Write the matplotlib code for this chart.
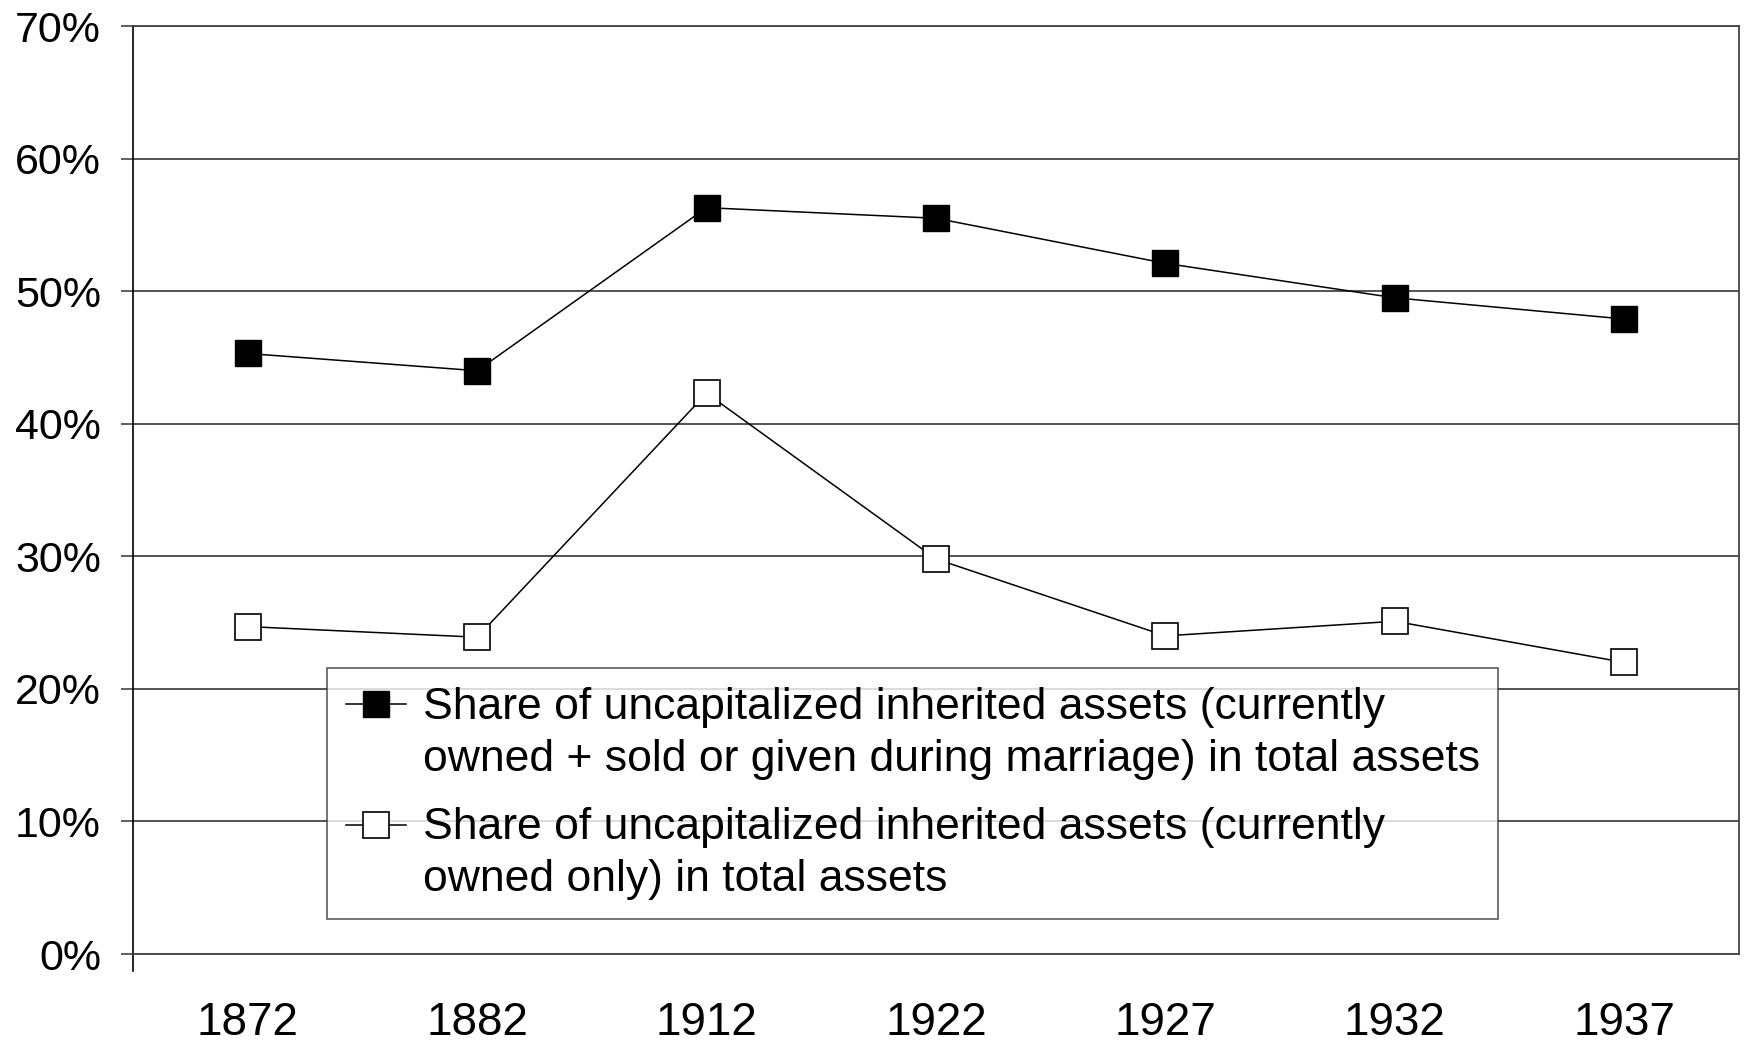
import matplotlib
matplotlib.use("Agg")
from matplotlib import pyplot as plt

years = ["1872", "1882", "1912", "1922", "1927", "1932", "1937"]
total_share = [0.453, 0.440, 0.563, 0.555, 0.521, 0.495, 0.479]
owned_share = [0.247, 0.239, 0.423, 0.298, 0.240, 0.251, 0.220]
labels = [
    "Share of uncapitalized inherited assets (currently\nowned + sold or given during marriage) in total assets",
    "Share of uncapitalized inherited assets (currently\nowned only) in total assets",
]
yticks = [0, 0.1, 0.2, 0.3, 0.4, 0.5, 0.6, 0.7]

plt.rcParams['font.family'] = ['Liberation Sans', 'DejaVu Sans']

fig = plt.figure(figsize=(17.44, 10.5), dpi=100)
ax = fig.add_axes([0.0763, 0.0914, 0.9208, 0.8838])

x = list(range(len(years)))
ax.plot(x, total_share, color='black', lw=1.1, marker='s', markersize=19,
        markerfacecolor='black', markeredgecolor='black', label=labels[0])
ax.plot(x, owned_share, color='black', lw=1.1, marker='s', markersize=19,
        markerfacecolor='white', markeredgecolor='black', markeredgewidth=1.2,
        label=labels[1])

ax.set_xlim(-0.5, len(years) - 0.5)
ax.set_ylim(0, 0.7)
ax.set_xticks(x)
ax.set_xticklabels(years)
ax.set_yticks(yticks)
ax.set_yticklabels([f"{int(round(v * 100))}%" for v in yticks])
ax.yaxis.grid(True, color='#444444', lw=1.3)
ax.set_axisbelow(True)

ax.tick_params(axis='x', length=0, pad=34, labelsize=33)
ax.tick_params(axis='y', length=9, width=1.2, color='#444444', pad=14, labelsize=31)

for s in ['top', 'right', 'bottom']:
    ax.spines[s].set_color('#444444')
    ax.spines[s].set_linewidth(1.3)
ax.spines['left'].set_color('black')
ax.spines['left'].set_linewidth(1.2)
ax.spines['left'].set_bounds(-0.0128, 0.7)

leg = ax.legend(loc='upper left', bbox_to_anchor=(0.1208, 0.308), fontsize=32,
                frameon=True, fancybox=False, edgecolor='#333333',
                handlelength=1.35, handleheight=1.0, handletextpad=0.38,
                borderpad=0.42, labelspacing=0.62, borderaxespad=0)
leg.get_frame().set_linewidth(1.2)
for t in leg.get_texts():
    t.set_linespacing(1.34)
# put the symbol next to the first line of each label
for col in leg._legend_handle_box.get_children():
    for row in col.get_children():
        row.align = 'top'

fig.savefig("out.png", dpi=100, facecolor='white')
